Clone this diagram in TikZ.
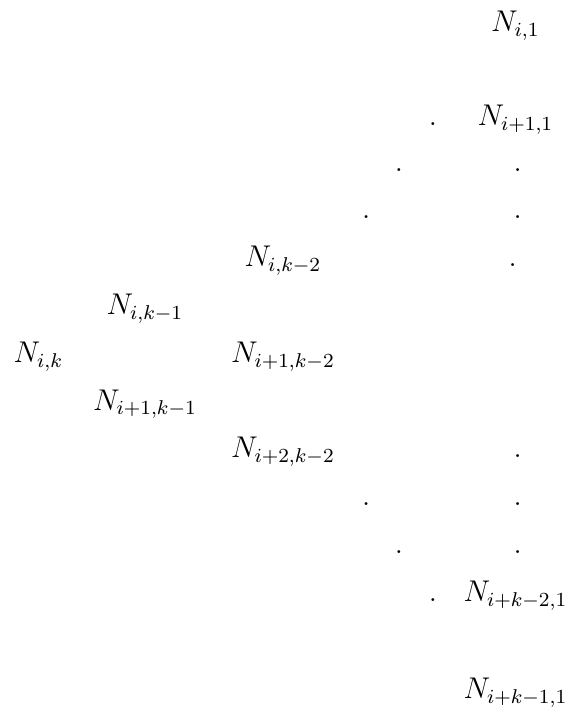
\documentclass[tikz,border=0pt]{standalone}
\usepackage{amsmath}
\usepackage{tikz}

\tikzset{entry/.style={anchor=base, inner sep=0pt, font=\fontsize{12}{14}\selectfont}}

\begin{document}
\begin{tikzpicture}
    \useasboundingbox (0,0) rectangle (8.03,10);

    % left side of the triangle
    \node[entry] (Nik) at (0.54,4.90) {$N_{i,k}$};
    \node[entry] (Nik1) at (2.04,5.57) {$N_{i,k-1}$};
    \node[entry] (Ni1k1) at (2.04,4.23) {$N_{i+1,k-1}$};
    \node[entry] (Nik2) at (3.98,6.25) {$N_{i,k-2}$};
    \node[entry] (Ni1k2) at (3.98,4.90) {$N_{i+1,k-2}$};
    \node[entry] (Ni2k2) at (3.98,3.56) {$N_{i+2,k-2}$};

    % upper diagonal dots
    \node[entry] (du1) at (5.15,6.92) {$.$};
    \node[entry] (du2) at (5.61,7.59) {$.$};
    \node[entry] (du3) at (6.09,8.23) {$.$};

    % lower diagonal dots
    \node[entry] (dl1) at (5.15,2.89) {$.$};
    \node[entry] (dl2) at (5.61,2.21) {$.$};
    \node[entry] (dl3) at (6.09,1.54) {$.$};

    % right column
    \node[entry] (Ni1) at (7.25,9.55) {$N_{i,1}$};
    \node[entry] (Nip1) at (7.25,8.23) {$N_{i+1,1}$};
    \node[entry] (dr1) at (7.28,7.59) {$.$};
    \node[entry] (dr2) at (7.28,6.92) {$.$};
    \node[entry] (dr3) at (7.21,6.25) {$.$};
    \node[entry] (dr4) at (7.28,3.56) {$.$};
    \node[entry] (dr5) at (7.28,2.89) {$.$};
    \node[entry] (dr6) at (7.28,2.21) {$.$};
    \node[entry] (Nik21) at (7.25,1.54) {$N_{i+k-2,1}$};
    \node[entry] (Nik11) at (7.25,0.17) {$N_{i+k-1,1}$};
\end{tikzpicture}
\end{document}
